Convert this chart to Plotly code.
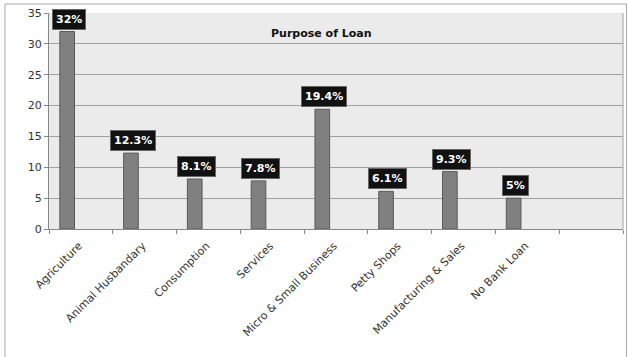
import plotly.graph_objects as go

categories = ["Agriculture", "Animal Husbandary", "Consumption", "Services",
              "Micro & Small Business", "Petty Shops", "Manufacturing & Sales",
              "No Bank Loan"]
values = [32, 12.3, 8.1, 7.8, 19.4, 6.1, 9.3, 5]
labels = ["32%", "12.3%", "8.1%", "7.8%", "19.4%", "6.1%", "9.3%", "5%"]
all_cats = categories + [" "]
y_ticks = [0, 5, 10, 15, 20, 25, 30, 35]

fig = go.Figure()
fig.add_trace(go.Bar(
    x=categories, y=values,
    width=0.23, offset=-0.33,
    marker=dict(color="#808080", line=dict(color="#5a5a5a", width=1)),
    hoverinfo="skip",
))

for c, v, t in zip(categories, values, labels):
    fig.add_annotation(
        x=c, y=v, xref="x", yref="y", text="<b>" + t + "</b>",
        showarrow=False, yanchor="bottom", xshift=-12, yshift=2,
        bgcolor="#111111", bordercolor="#666666", borderwidth=1, borderpad=3,
        font=dict(family="DejaVu Sans", size=11, color="white"),
    )

fig.add_annotation(
    x=0.474, y=0.944, xref="paper", yref="paper",
    text="<b>Purpose of Loan</b>", showarrow=False,
    font=dict(family="DejaVu Sans", size=11, color="#111111"),
)

# outer chart frame
fig.add_shape(type="rect", xref="paper", yref="paper",
              x0=-0.0767, x1=1.006, y0=-0.62, y1=1.0417,
              line=dict(color="#a8a8a8", width=1), layer="below")

fig.update_layout(
    width=629, height=357,
    margin=dict(l=49, r=6, t=13, b=128),
    paper_bgcolor="white",
    plot_bgcolor="#ebebeb",
    showlegend=False,
    xaxis=dict(
        type="category", categoryorder="array", categoryarray=all_cats,
        range=[-0.5, 8.5], tickangle=-45, ticklabelshift=-2,
        ticklabelstandoff=5,
        tickson="boundaries", ticks="outside", ticklen=4, tickcolor="#888888",
        showline=True, linecolor="#888888", linewidth=1,
        showgrid=False, mirror=False,
        tickfont=dict(family="DejaVu Sans", size=11, color="#333333"),
    ),
    yaxis=dict(
        range=[0, 35], tickvals=y_ticks,
        ticks="outside", ticklen=4, tickcolor="#888888",
        showline=True, linecolor="#888888", linewidth=1,
        gridcolor="#a0a0a0", gridwidth=1, zeroline=False,
        tickfont=dict(family="DejaVu Sans", size=11, color="#333333"),
    ),
)
# right border of plot area
fig.add_shape(type="line", xref="paper", yref="paper", x0=1, x1=1, y0=0, y1=1,
              line=dict(color="#a0a0a0", width=1))

fig.write_html("out.html")
